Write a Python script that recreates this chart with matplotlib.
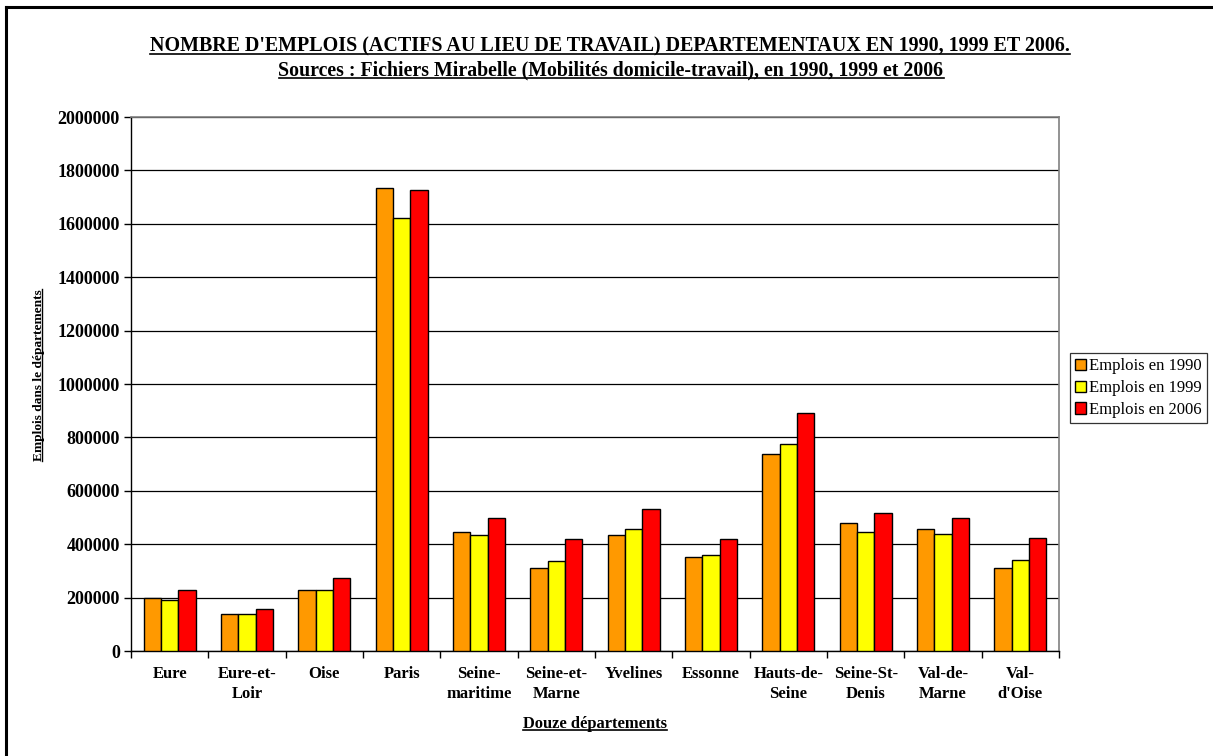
import numpy as np
import matplotlib.pyplot as plt
from matplotlib.lines import Line2D

departements = ["Eure", "Eure-et-\nLoir", "Oise", "Paris", "Seine-\nmaritime", "Seine-et-\nMarne",
                "Yvelines", "Essonne", "Hauts-de-\nSeine", "Seine-St-\nDenis", "Val-de-\nMarne", "Val-\nd'Oise"]
emplois_1990 = [198000, 140000, 230000, 1733000, 445000, 310000, 435000, 353000, 738000, 480000, 458000, 312000]
emplois_1999 = [191000, 138000, 228000, 1620000, 435000, 338000, 458000, 358000, 775000, 445000, 440000, 342000]
emplois_2006 = [228000, 158000, 273000, 1725000, 498000, 420000, 532000, 418000, 890000, 518000, 497000, 425000]
series_labels = ["Emplois en 1990", "Emplois en 1999", "Emplois en 2006"]
colors = ["#FF9900", "#FFFF00", "#FF0000"]

plt.rcParams['font.family'] = ['Liberation Serif', 'DejaVu Serif']


def underline(fig, txt, renderer, lw=1.2, lift=0.002):
    # draw a line just under a text object (matplotlib has no underline style)
    bb = txt.get_window_extent(renderer=renderer)
    inv = fig.transFigure.inverted()
    (x0, y0), (x1, _) = inv.transform([(bb.x0, bb.y0), (bb.x1, bb.y0)])
    fig.add_artist(Line2D([x0, x1], [y0 + lift, y0 + lift], transform=fig.transFigure,
                          color='black', lw=lw))


def main():
    fig = plt.figure(figsize=(12.13, 7.56), dpi=100)
    ax = fig.add_axes([131 / 1213, 1 - 651 / 756, (1059 - 131) / 1213, (651 - 117) / 756])

    x = np.arange(len(departements))
    w = 0.224
    for k, vals in enumerate([emplois_1990, emplois_1999, emplois_2006]):
        ax.bar(x + (k - 1) * w, vals, width=w, color=colors[k], edgecolor='black',
               linewidth=1.0, label=series_labels[k], zorder=3)

    ax.set_xlim(-0.5, len(departements) - 0.5)
    ax.set_ylim(0, 2000000)
    ax.set_yticks(np.arange(0, 2000001, 200000))
    ax.set_yticklabels([str(v) for v in range(0, 2000001, 200000)], fontsize=13, fontweight='bold')
    ax.yaxis.grid(True, color='black', linewidth=0.9, zorder=0)
    ax.set_axisbelow(True)

    ax.set_xticks(x)
    ax.set_xticklabels(departements, fontsize=12, fontweight='bold', linespacing=1.35)
    ax.tick_params(axis='x', which='major', length=0, pad=11)
    ax.set_xticks(np.arange(-0.5, len(departements), 1), minor=True)
    ax.tick_params(axis='x', which='minor', length=5, width=1, direction='out')
    ax.tick_params(axis='y', length=5, width=1, direction='out', pad=3)

    for s in ['top', 'right']:
        ax.spines[s].set_color('#808080')
        ax.spines[s].set_linewidth(1.2)
    ax.spines['left'].set_linewidth(1.0)
    ax.spines['bottom'].set_linewidth(1.0)

    leg = ax.legend(loc='center left', bbox_to_anchor=(1070 / 1213, 1 - 388 / 756),
                    bbox_transform=fig.transFigure, frameon=True, fancybox=False,
                    edgecolor='black', fontsize=12, handlelength=0.65, handleheight=0.65,
                    handletextpad=0.2, borderpad=0.3, labelspacing=0.35, borderaxespad=0)
    leg.get_frame().set_linewidth(0.9)

    t1 = fig.text(610 / 1213, 1 - 46 / 756, "NOMBRE D'EMPLOIS (ACTIFS AU LIEU DE TRAVAIL) DEPARTEMENTAUX EN 1990, 1999 ET 2006.",
                  ha='center', va='center', fontsize=14.4, fontweight='bold')
    t2 = fig.text(611 / 1213, 1 - 70 / 756, "Sources : Fichiers Mirabelle (Mobilités domicile-travail), en 1990, 1999 et 2006",
                  ha='center', va='center', fontsize=14.3, fontweight='bold')
    yl = fig.text(39 / 1213, 1 - 375 / 756, "Emplois dans le départements", rotation=90,
                  ha='center', va='center', fontsize=9.6, fontweight='bold')
    xl = fig.text(595 / 1213, 1 - 724 / 756, "Douze départements",
                  ha='center', va='center', fontsize=11.9, fontweight='bold')

    # frame around the chart (only top and left edges are visible)
    fig.add_artist(Line2D([6 / 1213, 1.0], [1 - 7 / 756, 1 - 7 / 756], transform=fig.transFigure,
                          color='black', lw=2.2))
    fig.add_artist(Line2D([6 / 1213, 6 / 1213], [0, 1 - 7 / 756], transform=fig.transFigure,
                          color='black', lw=2.2))
    # descenders of text cut off above the frame
    fig.text(40 / 1213, 1 + 4 / 756, "p", fontsize=12, ha='center', va='baseline')
    fig.text(325 / 1213, 1 + 4 / 756, "p", fontsize=12, ha='center', va='baseline')

    fig.canvas.draw()
    r = fig.canvas.get_renderer()
    underline(fig, t1, r, lift=0.003)
    underline(fig, t2, r, lift=0.003)
    underline(fig, xl, r, lift=0.003)
    # underline for the rotated label sits on its right side (the baseline)
    bb = yl.get_window_extent(renderer=r)
    inv = fig.transFigure.inverted()
    (x0, y0), (_, y1) = inv.transform([(bb.x1 - 3, bb.y0), (bb.x1 - 3, bb.y1)])
    fig.add_artist(Line2D([x0, x0], [y0, y1], transform=fig.transFigure,
                          color='black', lw=1.0))

    fig.savefig("out.png", dpi=100)
    plt.close(fig)


if __name__ == "__main__":
    main()
